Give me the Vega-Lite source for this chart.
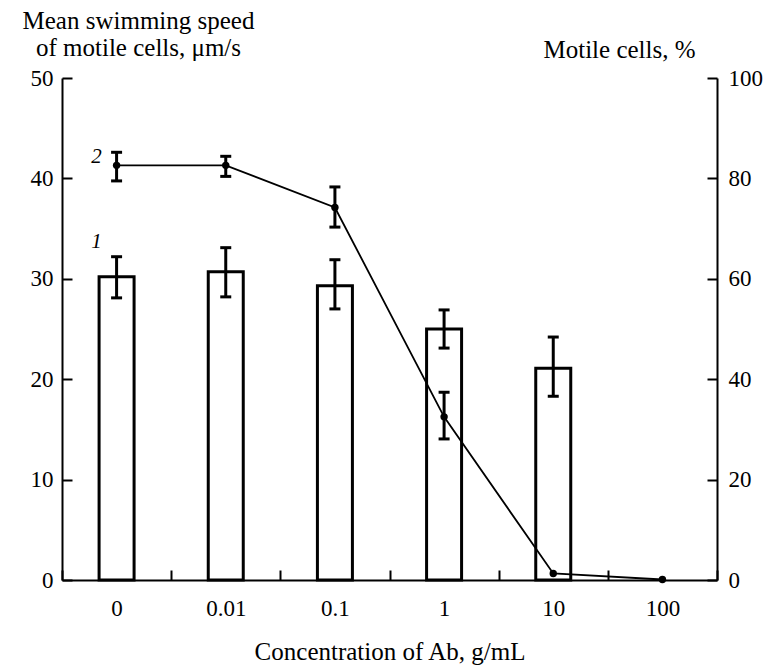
{
  "$schema": "https://vega.github.io/schema/vega-lite/v6.json",
  "width": 655,
  "height": 502,
  "autosize": {"type": "none"},
  "padding": {"left": 62, "top": 78, "right": 50, "bottom": 87},
  "config": {
    "view": {"stroke": null},
    "font": "Liberation Serif",
    "axis": {
      "grid": false,
      "domainColor": "black",
      "domainWidth": 2,
      "tickColor": "black",
      "tickWidth": 2,
      "labelColor": "black",
      "titleColor": "black",
      "labelFont": "Liberation Serif",
      "titleFont": "Liberation Serif",
      "labelFontSize": 23,
      "titleFontSize": 25,
      "titleFontWeight": "normal"
    }
  },
  "datasets": {
    "main": [
      {"conc": "0", "speed": 30.2, "speed_lo": 28.1, "speed_hi": 32.2, "motile": 82.6, "motile_lo": 79.5, "motile_hi": 85.2},
      {"conc": "0.01", "speed": 30.7, "speed_lo": 28.2, "speed_hi": 33.1, "motile": 82.6, "motile_lo": 80.4, "motile_hi": 84.4},
      {"conc": "0.1", "speed": 29.3, "speed_lo": 27.0, "speed_hi": 31.9, "motile": 74.2, "motile_lo": 70.3, "motile_hi": 78.3},
      {"conc": "1", "speed": 25.0, "speed_lo": 23.1, "speed_hi": 26.9, "motile": 32.5, "motile_lo": 28.1, "motile_hi": 37.4},
      {"conc": "10", "speed": 21.1, "speed_lo": 18.3, "speed_hi": 24.2, "motile": 1.3, "motile_lo": null, "motile_hi": null},
      {"conc": "100", "speed": null, "speed_lo": null, "speed_hi": null, "motile": 0.1, "motile_lo": null, "motile_hi": null}
    ],
    "labels": [
      {"conc": "0", "speed": 41.5, "label": "2"},
      {"conc": "0", "speed": 33.1, "label": "1"}
    ]
  },
  "data": {"name": "main"},
  "encoding": {
    "x": {
      "field": "conc",
      "type": "ordinal",
      "sort": ["0", "0.01", "0.1", "1", "10", "100"],
      "scale": {"domain": ["0", "0.01", "0.1", "1", "10", "100"], "paddingInner": 0, "paddingOuter": 0},
      "axis": {
        "title": "Concentration of Ab, g/mL",
        "labelAngle": 0,
        "tickBand": "extent",
        "tickSize": -10,
        "labelPadding": 27,
        "titleY": 79,
        "titleBaseline": "alphabetic"
      }
    }
  },
  "layer": [
    {
      "mark": {"type": "bar", "fill": "white", "stroke": "black", "strokeWidth": 3, "size": 35},
      "encoding": {
        "y": {
          "field": "speed",
          "type": "quantitative",
          "scale": {"domain": [0, 50], "nice": false},
          "axis": {
            "orient": "left",
            "values": [0, 10, 20, 30, 40, 50],
            "tickSize": -10,
            "labelPadding": 19,
            "title": ["Mean swimming speed", "of motile cells, μm/s"],
            "titleAngle": 0,
            "titleAlign": "center",
            "titleBaseline": "alphabetic",
            "titleX": 76,
            "titleY": -50,
            "titleLineHeight": 27
          }
        }
      }
    },
    {
      "mark": {"type": "rule", "color": "black", "strokeWidth": 3},
      "encoding": {
        "y": {"field": "speed_lo", "type": "quantitative", "scale": {"domain": [0, 50], "nice": false}, "axis": null},
        "y2": {"field": "speed_hi"}
      }
    },
    {
      "mark": {"type": "tick", "color": "black", "thickness": 3, "size": 11, "opacity": 1},
      "encoding": {"y": {"field": "speed_hi", "type": "quantitative", "scale": {"domain": [0, 50], "nice": false}, "axis": null}}
    },
    {
      "mark": {"type": "tick", "color": "black", "thickness": 3, "size": 11, "opacity": 1},
      "encoding": {"y": {"field": "speed_lo", "type": "quantitative", "scale": {"domain": [0, 50], "nice": false}, "axis": null}}
    },
    {
      "data": {"name": "labels"},
      "mark": {"type": "text", "fontStyle": "italic", "fontSize": 21, "dx": -20, "align": "center", "baseline": "alphabetic", "font": "Liberation Serif", "color": "black"},
      "encoding": {
        "y": {"field": "speed", "type": "quantitative", "scale": {"domain": [0, 50], "nice": false}, "axis": null},
        "text": {"field": "label"}
      }
    },
    {
      "mark": {"type": "line", "color": "black", "strokeWidth": 1.8},
      "encoding": {
        "y": {
          "field": "motile",
          "type": "quantitative",
          "scale": {"domain": [0, 100], "nice": false},
          "axis": {
            "orient": "right",
            "values": [0, 20, 40, 60, 80, 100],
            "tickSize": -10,
            "labelPadding": 21,
            "title": "Motile cells, %",
            "titleAngle": 0,
            "titleAlign": "center",
            "titleBaseline": "alphabetic",
            "titleX": -98,
            "titleY": -21
          }
        }
      }
    },
    {
      "mark": {"type": "point", "filled": true, "color": "black", "size": 55, "opacity": 1},
      "encoding": {"y": {"field": "motile", "type": "quantitative", "scale": {"domain": [0, 100], "nice": false}, "axis": null}}
    },
    {
      "mark": {"type": "rule", "color": "black", "strokeWidth": 3},
      "encoding": {
        "y": {"field": "motile_lo", "type": "quantitative", "scale": {"domain": [0, 100], "nice": false}, "axis": null},
        "y2": {"field": "motile_hi"}
      }
    },
    {
      "mark": {"type": "tick", "color": "black", "thickness": 3, "size": 11, "opacity": 1},
      "encoding": {"y": {"field": "motile_hi", "type": "quantitative", "scale": {"domain": [0, 100], "nice": false}, "axis": null}}
    },
    {
      "mark": {"type": "tick", "color": "black", "thickness": 3, "size": 11, "opacity": 1},
      "encoding": {"y": {"field": "motile_lo", "type": "quantitative", "scale": {"domain": [0, 100], "nice": false}, "axis": null}}
    }
  ],
  "resolve": {"scale": {"y": "independent"}}
}
